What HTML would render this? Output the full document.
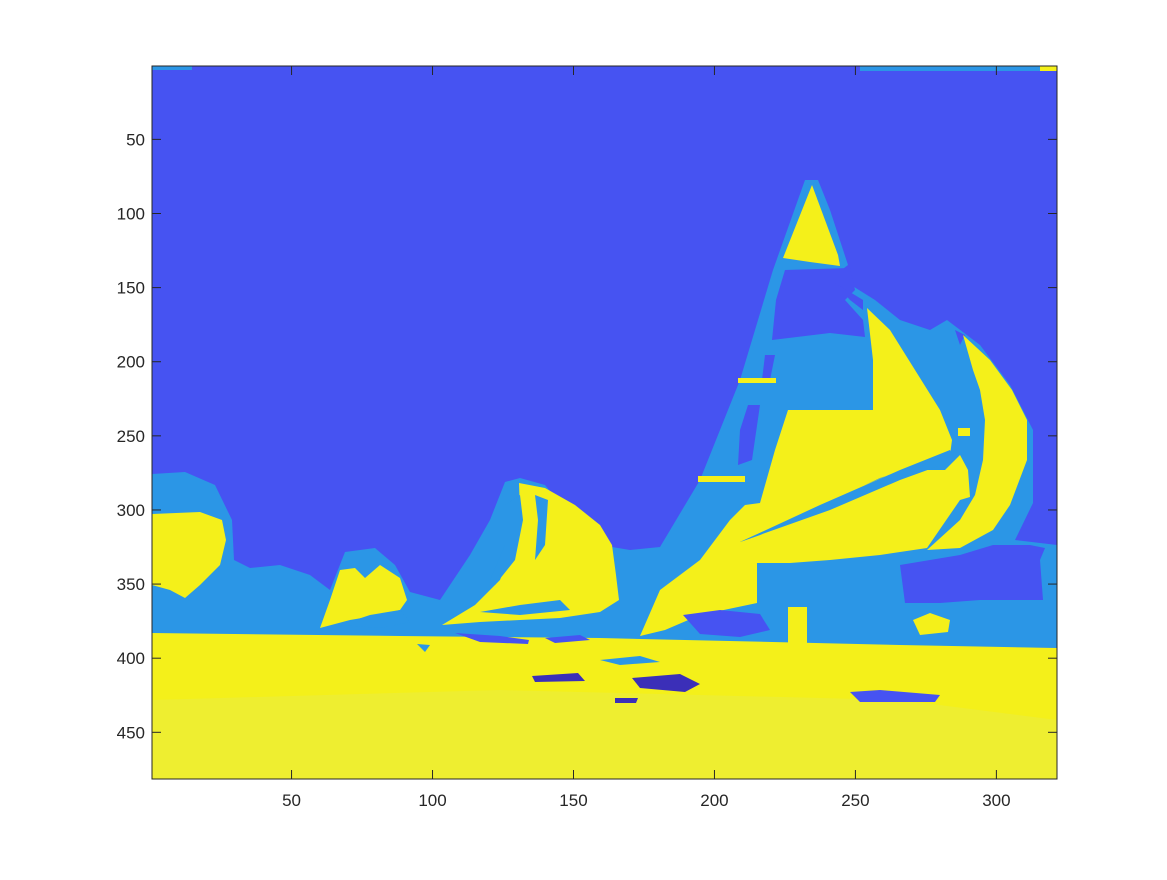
<!DOCTYPE html>
<html><head><meta charset="utf-8"><style>
body{margin:0;background:#fff;}
text{font-family:"Liberation Sans",sans-serif;font-size:17px;fill:#262626;}
</style></head><body>
<svg width="1167" height="875">
<defs><clipPath id="pc"><rect x="152" y="66" width="905" height="713"/></clipPath></defs>
<g clip-path="url(#pc)">
<rect x="152" y="66" width="905" height="713" fill="#4653f2"/>
<rect x="152" y="66" width="40" height="4" fill="#2b96e6"/>
<rect x="860" y="66" width="197" height="5" fill="#2b96e6"/>
<rect x="1040" y="66" width="17" height="5" fill="#f4f01a"/>
<polygon fill="#2b96e6" points="152,474 185,472 215,485 232,520 234,560 250,568 280,565 310,575 330,590 345,552 375,548 395,565 410,592 440,600 470,555 490,520 505,482 520,478 545,485 570,515 600,545 630,550 660,547 700,480 740,380 773,270 805,180 818,180 830,210 848,265 835,275 875,300 900,320 930,330 947,320 980,345 1010,385 1033,430 1033,503 1015,540 1057,545 1057,648 152,635"/>
<polygon fill="#4653f2" points="785,270 850,268 855,290 845,300 863,320 865,337 830,333 772,340 776,300"/>
<polygon fill="#4653f2" points="835,283 863,300 863,310 850,300"/>
<polygon fill="#4653f2" points="765,355 775,355 770,380 762,380"/>
<polygon fill="#4653f2" points="748,405 760,405 752,460 738,465 740,430"/>
<polygon fill="#4653f2" points="955,330 965,335 960,345"/>
<polygon fill="#4653f2" points="900,565 960,555 993,545 1030,545 1045,548 1040,560 1043,600 980,600 940,603 905,603"/>
<polygon fill="#f4f01a" points="152,633 400,636 600,638 900,645 1057,648 1057,779 152,779"/>
<polygon fill="#eeee30" points="152,700 500,690 900,700 1057,720 1057,779 152,779"/>
<polygon fill="#f4f01a" points="152,514 200,512 222,520 226,540 220,565 200,585 185,598 170,590 152,585"/>
<polygon fill="#f4f01a" points="812,185 838,255 840,266 810,262 783,258"/>
<polygon fill="#f4f01a" points="867,308 890,330 915,370 940,410 952,440 950,455 880,478 800,515 740,542 760,535 830,500 900,470 945,470 960,455 968,470 970,497 960,500 927,548 880,555 830,560 790,563 757,563 757,603 700,615 665,630 640,636 660,590 700,560 730,520 745,505 760,503 775,450 788,410 840,410 873,410 873,360"/>
<polygon fill="#2b96e6" points="740,542 820,505 900,470 950,450 955,460 900,480 830,510"/>
<polygon fill="#f4f01a" points="963,335 990,360 1012,390 1027,420 1027,460 1010,505 993,530 960,548 927,550 960,520 975,495 983,460 985,420 980,390 973,370"/>
<polygon fill="#f4f01a" points="738,378 776,378 776,383 738,383"/>
<polygon fill="#f4f01a" points="698,476 745,476 745,482 698,482"/>
<rect x="958" y="428" width="12" height="8" fill="#f4f01a"/>
<polygon fill="#f4f01a" points="519,483 545,488 575,505 600,525 612,545 616,575 619,600 600,612 560,618 520,620 480,622 442,625 475,605 500,580 515,540 520,510"/>
<polygon fill="#2b96e6" points="505,505 520,495 523,520 515,560 495,585 490,580 505,545"/>
<polygon fill="#2b96e6" points="535,495 548,500 545,545 535,560 538,520"/>
<polygon fill="#2b96e6" points="480,612 520,605 560,600 570,610 520,615"/>
<polygon fill="#f4f01a" points="340,570 355,568 365,578 380,565 400,578 407,600 400,610 380,615 350,620 320,628 330,600"/>
<polygon fill="#2b96e6" points="340,625 370,615 400,610 410,622 380,628"/>
<polygon fill="#4653f2" points="455,633 500,636 529,640 528,644 480,642"/>
<polygon fill="#4653f2" points="545,638 580,635 590,640 555,643"/>
<polygon fill="#2b96e6" points="417,644 430,645 425,652"/>
<polygon fill="#2b96e6" points="600,660 640,656 660,662 620,665"/>
<polygon fill="#4653f2" points="683,615 720,610 760,614 770,630 740,637 700,634"/>
<rect x="788" y="607" width="19" height="43" fill="#f4f01a"/>
<polygon fill="#f4f01a" points="913,620 930,613 950,620 948,632 920,635"/>
<polygon fill="#4653f2" points="850,692 880,690 940,695 935,702 860,702"/>
<polygon fill="#3b2fb8" points="532,676 578,673 585,681 535,682"/>
<polygon fill="#3b2fb8" points="632,678 680,674 700,684 685,692 640,688"/>
<polygon fill="#3b2fb8" points="615,698 638,698 636,703 615,703"/>
</g>
<rect x="152" y="66" width="905" height="713" fill="none" stroke="#262626" stroke-width="1"/>
<g id="yt"></g>
<g id="xt"></g>
</svg>
<script>
const xTicks=[50,100,150,200,250,300];
const yTicks=[50,100,150,200,250,300,350,400,450];
const xs=v=>152+(v-0.5)*905/321, ys=v=>66+(v-0.5)*713/481;
const NS="http://www.w3.org/2000/svg";
const yt=document.getElementById('yt'), xt=document.getElementById('xt');
yTicks.forEach(v=>{const y=ys(v);
 const t=document.createElementNS(NS,'text');t.setAttribute('x',145);t.setAttribute('y',y+6);t.setAttribute('text-anchor','end');t.textContent=v;
 
 
 yt.appendChild(t);
 [[152,161],[1048,1057]].forEach(([a,b])=>{const l=document.createElementNS(NS,'line');l.setAttribute('x1',a);l.setAttribute('x2',b);l.setAttribute('y1',y);l.setAttribute('y2',y);l.setAttribute('stroke','#262626');yt.appendChild(l);});
});
xTicks.forEach(v=>{const x=xs(v);
 const t=document.createElementNS(NS,'text');t.setAttribute('x',x);t.setAttribute('y',806);t.setAttribute('text-anchor','middle');t.textContent=v;
 
 
 xt.appendChild(t);
 [[770,779],[66,75]].forEach(([a,b])=>{const l=document.createElementNS(NS,'line');l.setAttribute('x1',x);l.setAttribute('x2',x);l.setAttribute('y1',a);l.setAttribute('y2',b);l.setAttribute('stroke','#262626');xt.appendChild(l);});
});
</script>
</body></html>
